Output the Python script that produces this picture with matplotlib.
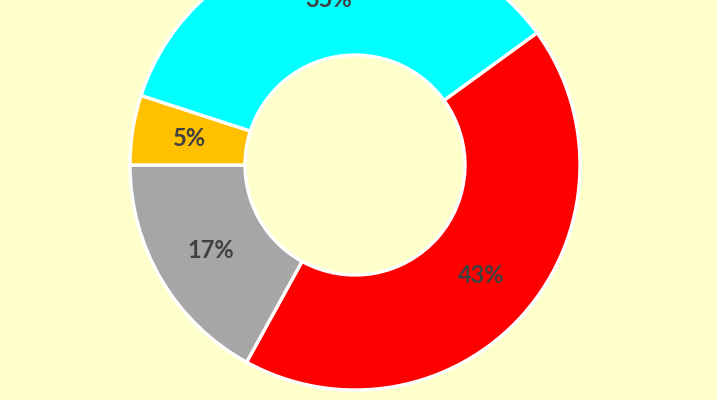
import matplotlib.pyplot as plt

labels = ["Red", "Gray", "Yellow", "Cyan"]
values = [43, 17, 5, 35]
colors = ["#FF0000", "#A6A6A6", "#FFC000", "#00FFFF"]

bg = "#FFFFCC"
fig = plt.figure(figsize=(7.17, 4.0), dpi=100, facecolor=bg)
ax = fig.add_axes([0, 0, 1, 1])
ax.set_facecolor(bg)

wedges, texts, autotexts = ax.pie(
    values, colors=colors, radius=225, startangle=36, counterclock=False,
    autopct="%d%%", pctdistance=0.745,
    wedgeprops=dict(width=115, edgecolor="white", linewidth=2.4),
    textprops=dict(color="#404040", fontsize=17, fontweight="bold", family="Lato"),
)

ax.set_xlim(-355, 362)
ax.set_ylim(-235, 165)
ax.set_aspect("equal")
ax.axis("off")

fig.savefig("out.png", dpi=100, facecolor=bg)
